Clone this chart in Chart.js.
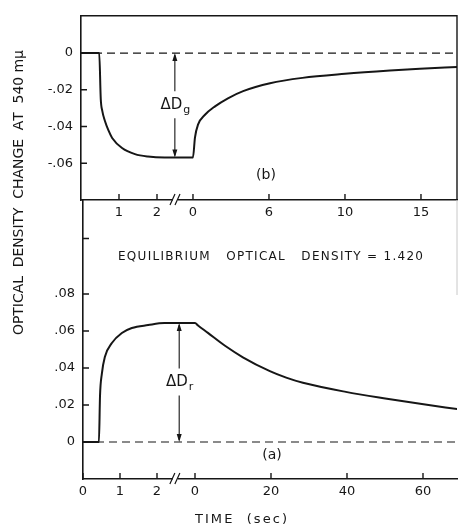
<!DOCTYPE html>
<html>
<head>
<meta charset="utf-8">
<script src="https://cdn.jsdelivr.net/npm/chart.js@4/dist/chart.umd.min.js"></script>
<style>
  html, body { margin: 0; padding: 0; background: #fff; }
  #wrap { position: relative; width: 458px; height: 529px; }
  #wrap canvas { position: absolute; left: 0; top: 0; }
</style>
</head>
<body>
<div id="wrap">
  <canvas id="panelB" width="458" height="529"></canvas>
  <canvas id="panelA" width="458" height="529"></canvas>
</div>
<script>
var FONT = 'DejaVu Sans';
var INK = '#161616';

// (b) density change at 540 mu: during the flash (sec) and in the dark afterwards (sec)
var bFlashT = [0, 0.48, 0.52, 0.56, 0.63, 0.72, 0.82, 1.08, 1.42, 1.76, 2.2, 2.9];
var bFlashD = [0, 0, -0.025, -0.0315, -0.037, -0.042, -0.0462, -0.0517, -0.055, -0.0563, -0.0568, -0.0568];
var bDarkT  = [0, 0.13, 0.33, 0.79, 1.45, 2.3, 3.3, 5.07, 7.2, 10.0, 12.96, 14.93, 17.4];
var bDarkD  = [-0.0568, -0.046, -0.039, -0.0336, -0.029, -0.0246, -0.0207, -0.0164, -0.0135, -0.0113, -0.0095, -0.0085, -0.0076];
var bEarlyTicks = [1, 2];
var bEarlyLabels = ['1', '2'];
var bLateTicks = [0, 5, 10, 15];
var bLateLabels = ['0', '6', '10', '15'];
var bYTicks = [0, -0.02, -0.04, -0.06];
var bYLabels = ['0', '-.02', '-.04', '-.06'];

// (a) same run, red side
var aFlashT = [0, 0.43, 0.46, 0.51, 0.59, 0.78, 1.05, 1.32, 1.76, 2.2, 2.9];
var aFlashD = [0, 0, 0.025, 0.037, 0.046, 0.0535, 0.0589, 0.0616, 0.0632, 0.0643, 0.0643];
var aDarkT  = [0, 0.8, 3.4, 7.9, 12.6, 19.7, 24, 28.4, 39.7, 50.5, 59.7, 69];
var aDarkD  = [0.0643, 0.063, 0.059, 0.052, 0.0458, 0.0383, 0.0348, 0.032, 0.0271, 0.0234, 0.0205, 0.0178];
var aEarlyTicks = [0, 1, 2];
var aEarlyLabels = ['0', '1', '2'];
var aLateTicks = [0, 20, 40, 60];
var aLateLabels = ['0', '20', '40', '60'];
var aYTicks = [0, 0.02, 0.04, 0.06, 0.08, 0.11];
var aYLabels = ['0', '.02', '.04', '.06', '.08', ''];

// letters spread out evenly between x0 and x1
function spreadText(ctx, text, x0, x1, y) {
  var chars = text.split('');
  var natural = 0;
  chars.forEach(function (c) { natural += ctx.measureText(c).width; });
  var extra = (x1 - x0 - natural) / (chars.length - 1);
  var x = x0;
  ctx.textAlign = 'left';
  chars.forEach(function (c) {
    ctx.fillText(c, x, y);
    x += ctx.measureText(c).width + extra;
  });
}

function subLabel(ctx, main, sub, cx, cy) {
  ctx.font = '15px ' + FONT;
  var w1 = ctx.measureText(main).width;
  ctx.font = '11px ' + FONT;
  var w2 = ctx.measureText(sub).width;
  var x = cx - (w1 + w2) / 2;
  ctx.textAlign = 'left';
  ctx.textBaseline = 'middle';
  ctx.font = '15px ' + FONT;
  ctx.fillText(main, x, cy);
  ctx.font = '11px ' + FONT;
  ctx.fillText(sub, x + w1 + 1, cy + 5);
}

function makePanel(id, p) {
  // broken time axis: first seconds on their own scale, the dark period squeezed after the break
  function u(t, late) { return late ? p.lateStart + t * p.lateScale : t; }

  var curve = [];
  p.flashT.forEach(function (t, i) { curve.push({ x: u(t, false), y: p.flashD[i] }); });
  p.darkT.forEach(function (t, i) { curve.push({ x: u(t, true), y: p.darkD[i] }); });
  var xTicks = p.earlyTicks.map(function (t) { return u(t, false); })
    .concat(p.lateTicks.map(function (t) { return u(t, true); }));
  var xLabels = p.earlyLabels.concat(p.lateLabels);
  var peak = p.sign < 0 ? Math.min.apply(null, p.flashD) : Math.max.apply(null, p.flashD);

  var decor = {
    id: 'decor',
    afterDraw: function (chart) {
      var ctx = chart.ctx, xs = chart.scales.x, ys = chart.scales.y, area = chart.chartArea;
      ctx.save();
      ctx.strokeStyle = INK;
      ctx.fillStyle = INK;
      ctx.lineWidth = 1.4;

      // tick marks point into the plot
      ctx.beginPath();
      xs.ticks.forEach(function (tk) {
        var px = xs.getPixelForValue(tk.value);
        ctx.moveTo(px, area.bottom);
        ctx.lineTo(px, area.bottom - 6);
      });
      ys.ticks.forEach(function (tk) {
        var py = ys.getPixelForValue(tk.value);
        ctx.moveTo(area.left, py);
        ctx.lineTo(area.left + 6, py);
      });
      ctx.stroke();

      // the // break on the time axis
      var bx = xs.getPixelForValue(p.breakAt), by = area.bottom;
      ctx.fillStyle = '#fff';
      ctx.fillRect(bx - 3, by - 2, 5, 4);
      ctx.fillStyle = INK;
      ctx.lineWidth = 1.2;
      ctx.beginPath();
      ctx.moveTo(bx - 6, by + 5); ctx.lineTo(bx - 1, by - 6);
      ctx.moveTo(bx - 1, by + 5); ctx.lineTo(bx + 4, by - 6);
      ctx.stroke();

      // double arrow from the base line to the plateau
      var ax = xs.getPixelForValue(u(p.arrowT, false));
      var y0 = ys.getPixelForValue(0), y1 = ys.getPixelForValue(peak);
      var mid = (y0 + y1) / 2, top = Math.min(y0, y1), bot = Math.max(y0, y1);
      ctx.lineWidth = 1.1;
      ctx.beginPath();
      ctx.moveTo(ax, top + 2); ctx.lineTo(ax, mid - 14);
      ctx.moveTo(ax, mid + 13); ctx.lineTo(ax, bot - 2);
      ctx.stroke();
      ctx.beginPath();
      ctx.moveTo(ax, top); ctx.lineTo(ax - 2.5, top + 8); ctx.lineTo(ax + 2.5, top + 8); ctx.closePath();
      ctx.moveTo(ax, bot); ctx.lineTo(ax - 2.5, bot - 8); ctx.lineTo(ax + 2.5, bot - 8); ctx.closePath();
      ctx.fill();
      subLabel(ctx, '\u0394D', p.deltaSub, ax, mid);

      if (p.frame) {
        ctx.lineWidth = 1.4;
        ctx.beginPath();
        ctx.moveTo(area.left, area.top);
        ctx.lineTo(area.right, area.top);
        ctx.lineTo(area.right, area.bottom);
        ctx.stroke();
      }
      p.extras(ctx, area);
      ctx.restore();
    }
  };

  return new Chart(document.getElementById(id), {
    type: 'line',
    data: {
      datasets: [
        {
          data: curve,
          borderColor: INK,
          borderWidth: 2,
          cubicInterpolationMode: 'monotone',
          pointRadius: 0,
          fill: false
        },
        {
          data: [{ x: 0, y: 0 }, { x: p.uMax, y: 0 }],
          borderColor: INK,
          borderWidth: 1.2,
          borderDash: [8, 5],
          pointRadius: 0,
          fill: false
        }
      ]
    },
    options: {
      responsive: false,
      animation: false,
      layout: { padding: p.pad },
      plugins: { legend: { display: false }, tooltip: { enabled: false } },
      scales: {
        x: {
          type: 'linear',
          min: 0,
          max: p.uMax,
          afterBuildTicks: function (s) { s.ticks = xTicks.map(function (v) { return { value: v }; }); },
          afterFit: function (s) { s.height = p.xHeight; },
          ticks: {
            autoSkip: false,
            maxRotation: 0,
            padding: 5,
            color: INK,
            font: { family: FONT, size: 13 },
            callback: function (v, i) { return xLabels[i]; }
          },
          grid: { drawOnChartArea: false, drawTicks: false },
          border: { color: INK, width: 1.6 }
        },
        y: {
          type: 'linear',
          min: p.yMin,
          max: p.yMax,
          afterBuildTicks: function (s) { s.ticks = p.yTicks.map(function (v) { return { value: v }; }); },
          afterFit: function (s) { s.width = p.yWidth; },
          ticks: {
            autoSkip: false,
            padding: 8,
            color: INK,
            font: { family: FONT, size: 13 },
            callback: function (v, i) { return p.yLabels[i]; }
          },
          grid: { drawOnChartArea: false, drawTicks: false },
          border: { color: INK, width: 1.6 }
        }
      }
    },
    plugins: [decor]
  });
}

makePanel('panelB', {
  flashT: bFlashT, flashD: bFlashD, darkT: bDarkT, darkD: bDarkD,
  earlyTicks: bEarlyTicks, earlyLabels: bEarlyLabels,
  lateTicks: bLateTicks, lateLabels: bLateLabels,
  yTicks: bYTicks, yLabels: bYLabels,
  lateStart: 2.947, lateScale: 0.4, uMax: 9.895, breakAt: 2.5,
  yMin: -0.08, yMax: 0.0203,
  arrowT: 2.47, sign: -1, deltaSub: 'g',
  frame: true,
  xHeight: 30, yWidth: 81,
  pad: { top: 12, right: 1, bottom: 299, left: 0 },
  extras: function (ctx) {
    ctx.font = '14px ' + FONT;
    ctx.textAlign = 'center';
    ctx.textBaseline = 'middle';
    ctx.fillText('(b)', 266, 175);
  }
});

makePanel('panelA', {
  flashT: aFlashT, flashD: aFlashD, darkT: aDarkT, darkD: aDarkD,
  earlyTicks: aEarlyTicks, earlyLabels: aEarlyLabels,
  lateTicks: aLateTicks, lateLabels: aLateLabels,
  yTicks: aYTicks, yLabels: aYLabels,
  lateStart: 3.027, lateScale: 0.1027, uMax: 10.108, breakAt: 2.51,
  yMin: -0.02, yMax: 0.1308,
  arrowT: 2.6, sign: 1, deltaSub: 'r',
  frame: false,
  xHeight: 50, yWidth: 83,
  pad: { top: 200, right: 1, bottom: 0, left: 0 },
  extras: function (ctx, area) {
    // faint edge of the frame near the top
    ctx.strokeStyle = '#c8c8c8';
    ctx.lineWidth = 1;
    ctx.beginPath();
    ctx.moveTo(area.right, area.top);
    ctx.lineTo(area.right, area.top + 95);
    ctx.stroke();

    ctx.fillStyle = INK;
    ctx.textBaseline = 'middle';
    ctx.font = '14px ' + FONT;
    ctx.textAlign = 'center';
    ctx.fillText('(a)', 272, 455);

    ctx.font = '12px ' + FONT;
    spreadText(ctx, 'EQUILIBRIUM   OPTICAL   DENSITY = 1.420', 118, 423, 257);

    ctx.font = '13px ' + FONT;
    spreadText(ctx, 'TIME  (sec)', 195, 287, 520);

    ctx.save();
    ctx.translate(19, 335);
    ctx.rotate(-Math.PI / 2);
    ctx.font = '14px ' + FONT;
    ctx.textBaseline = 'middle';
    spreadText(ctx, 'OPTICAL  DENSITY  CHANGE  AT  540 m\u03bc', 0, 285, 0);
    ctx.restore();
  }
});
</script>
</body>
</html>
